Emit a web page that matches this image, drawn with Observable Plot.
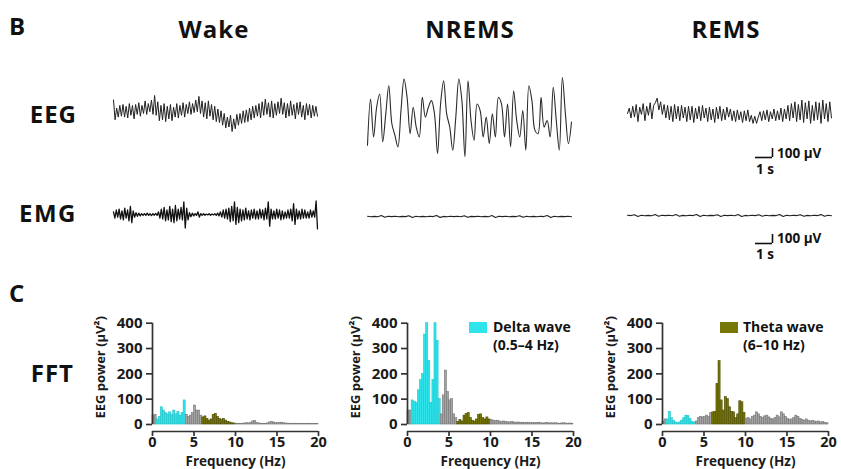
<!DOCTYPE html>
<html><head><meta charset="utf-8">
<script src="https://cdn.jsdelivr.net/npm/d3@7"></script>
<script src="https://cdn.jsdelivr.net/npm/@observablehq/plot@0.6"></script>
<style>
body{margin:0;background:#fff}
#root{position:relative;width:841px;height:469px;overflow:hidden;font-family:"Open Sans",sans-serif;background:#fff}
</style></head><body><div id="root"></div>
<script>
// ---------------- DATA ----------------
const panelLetters = ["B", "C"];
const stages = ["Wake", "NREMS", "REMS"];
const rowLabels = ["EEG", "EMG", "FFT"];
const traceDuration = 12;            // seconds shown per trace
const scaleBarTime = 1;              // s
const scaleBarVolt = 100;            // µV
const scaleTimeLabel = "1 s";
const scaleVoltLabel = "100 µV";

// EEG traces (µV), evenly sampled over traceDuration
const eegWake = [150,-70,60,-40,90,-30,100,-40,80,-50,110,-20,90,-60,100,-10,120,-30,90,0,140,-10,110,20,150,-10,
  200,-20,130,-80,90,-70,110,-90,80,-60,100,-80,70,-40,110,-50,90,-20,120,-40,100,0,130,-10,110,10,150,20,190,0,140,-40,120,-60,140,-30,
  100,-70,80,-90,50,-100,30,-130,0,-160,-40,-150,-20,-200,-60,-170,-10,-130,0,-110,30,-100,40,-90,60,-70,80,-50,90,-30,
  110,-50,130,-20,160,-10,120,-40,140,-50,110,-20,130,0,170,-10,120,-50,110,-30,140,-20,100,-60,120,-10,130,-40,90,-70,110,-20,100,-50,90,-30,80,-30];
const eegNREMS = [-330,183,-239,92,239,-294,18,330,-92,-220,-349,55,404,202,-202,92,-128,-239,202,-18,92,165,18,-422,128,385,18,-128,-385,-18,
  404,165,-459,385,-55,-275,128,55,-239,-18,-312,18,-239,202,128,-239,128,-349,275,-55,-239,55,-385,330,165,-165,-202,202,-128,-55,-239,312,-55,-385,422,18,-312,-73];
const eegREMS = [0,60,-50,80,-40,100,-90,70,-10,110,-80,80,-20,120,-60,90,120,170,40,130,-10,100,-50,
  90,-70,80,-90,100,-60,80,-80,90,-50,70,-90,80,-70,80,-100,60,-60,80,-80,90,-50,60,-90,70,-70,50,-100,70,-60,80,-80,50,-70,70,
  -40,50,-80,30,-90,40,-70,20,-100,30,-80,40,-90,-20,-110,-30,-110,-40,20,-80,30,-70,40,-90,20,-60,50,-80,30,-70,
  60,-90,50,-60,90,-80,110,-50,130,-90,100,-70,150,-100,120,-60,140,-110,90,-80,130,-70,120,-110,150,-60,110,-90,130,-50];

// EMG traces (µV)
const emgWake = [30,-40,50,-30,60,-50,40,-60,70,-40,50,-70,90,-90,40,-30,20,-20,15,-15,10,-10,
  10,-10,15,-10,8,-12,10,-8,12,-10,
  30,-40,60,-50,80,-70,50,-60,90,-80,60,-90,100,-70,60,-50,80,-60,140,-150,70,-60,
  20,-25,15,-15,10,-10,30,-30,10,-10,8,-8,5,-5,8,-8,5,-5,10,-10,15,-15,
  30,-30,50,-40,60,-50,70,-80,90,-70,140,-110,80,-90,60,-70,50,-60,70,-50,40,-60,50,-40,60,-50,
  40,-50,60,-40,50,-60,70,-50,140,-130,60,-50,40,-50,60,-40,50,-60,40,-50,30,-40,50,-40,60,-70,120,-110,60,-50,40,-50,60,-40,50,-40,30,-40,50,-30,40,-30,150,-160];
const emgNREMS = [2,-2,1,-2,10,-9,2,-1,2,-2,1,-1,8,-10,2,-2,1,-2,2,-1,12,-10,1,-2,2,-1,2,-2,9,-8,1,-1,2,-2,1,-2,10,-11,2,-1,2,-2,1,-1,9,-9,2,-2,1,-2,2,-1,11,-10,2,-2,1,-1,2,-2];
const emgREMS = [2,-1,9,-10,2,-2,1,-2,11,-9,2,-1,2,-2,10,-8,1,-2,2,-1,12,-12,2,-2,1,-1,9,-10,2,-1,2,-2,10,-11,1,-2,2,-1,8,-9,2,-2,1,-1,11,-10,2,-2,2,-1,9,-8,1,-2,2,-1,10,-9,2,-2];

// FFT power (µV²), 0.25 Hz bins from 0 to 20 Hz
const binWidth = 0.25;
const fftWake = [35,38,
  20,30,68,55,45,40,48,38,55,40,50,35,45,95,
  38,30,35,45,75,55,55,35,
  28,32,22,15,20,38,42,30,22,18,22,15,10,8,5,4,
  3,3,2,3,4,5,4,6,12,14,6,4,3,2,3,4,8,10,8,6,5,6,7,5,4,3,3,2,3,3,2,2,3,2,2,3,2,2,2,2];
const fftNREMS = [55,55,
  95,90,85,135,175,200,355,400,250,85,175,400,330,100,
  40,115,213,128,95,100,40,25,
  10,18,12,35,42,45,25,15,12,20,38,40,25,20,28,20,
  18,15,14,15,12,10,12,10,9,8,10,8,7,8,6,7,6,6,7,5,6,5,6,7,5,4,5,6,4,5,4,5,4,3,4,5,4,3,4,3];
const fftREMS = [10,20,
  20,50,25,15,8,5,8,15,25,35,33,22,10,8,
  12,25,30,28,30,35,30,45,
  48,50,160,250,95,55,108,100,68,50,48,25,40,92,88,45,
  22,25,20,30,35,48,40,30,25,32,35,28,22,20,25,35,28,48,40,30,22,18,20,25,35,30,22,18,15,20,15,12,14,12,10,12,8,10,6,5];
const yTicks = [0, 100, 200, 300, 400];
const xTicks = [0, 5, 10, 15, 20];
const yLabel = "EEG power (µV²)";
const xLabel = "Frequency (Hz)";
const bands = [
  {name: "delta", lo: 0.5, hi: 4, label: "Delta wave", range: "(0.5–4 Hz)"},
  {name: "theta", lo: 6, hi: 10, label: "Theta wave", range: "(6–10 Hz)"}
];

// ---------------- STYLE ----------------
const FONT = "'Open Sans', 'DejaVu Sans', sans-serif";
const colors = {delta: "#2fe4ea", theta: "#777708", other: "#a4a4a4"};
const strokes = {delta: "#22c4ca", theta: "#4c4c00", other: "#767676"};
const pxPerSec = 17, pxPerUV = 0.09;
const root = document.getElementById("root");

function place(el, left, top) {
  el.style.position = "absolute";
  el.style.left = left + "px";
  el.style.top = top + "px";
  root.appendChild(el);
}

function trace(values, left, zeroY, color, sw, curve = "linear") {
  const half = 600;
  const w = traceDuration * pxPerSec, h = 2 * half * pxPerUV, m = 2;
  const n = values.length;
  const svg = Plot.plot({
    width: w + 2 * m, height: h + 2 * m, margin: m,
    style: {background: "transparent", overflow: "visible"},
    x: {domain: [0, traceDuration], axis: null},
    y: {domain: [-half, half], axis: null},
    marks: [Plot.line(values, {x: (d, i) => i * traceDuration / (n - 1), y: d => d, stroke: color, strokeWidth: sw, strokeLinejoin: "round", curve})]
  });
  place(svg, left - m, zeroY - h / 2 - m);
}

function scaleBar(left, bottom) {
  const m = 2, w = scaleBarTime * pxPerSec, h = scaleBarVolt * pxPerUV;
  const svg = Plot.plot({
    width: w + 2 * m, height: h + 2 * m, margin: m,
    style: {background: "transparent", overflow: "visible"},
    x: {domain: [0, scaleBarTime], axis: null},
    y: {domain: [0, scaleBarVolt], axis: null},
    marks: [
      Plot.ruleY([0], {x1: () => 0, x2: () => scaleBarTime, stroke: "#111", strokeWidth: 1.6}),
      Plot.ruleX([scaleBarTime], {y1: () => 0, y2: () => scaleBarVolt, stroke: "#111", strokeWidth: 1.6})
    ]
  });
  place(svg, left - m, bottom - h - m);
}

function bandOf(f) {
  for (const b of bands) if (f >= b.lo - 1e-9 && f < b.hi - 1e-9) return b.name;
  return "other";
}

function fftPanel(values, axisLeft) {
  const W = 250, H = 169, top = 300;
  const zeroY = 424, topY = 322.7, frameBottom = 431, plotW = 166;
  const mL = 72, mR = W - mL - plotW, mT = topY - top, mB = top + H - frameBottom;
  const unitsPerPx = 400 / (zeroY - topY);
  const yFloor = -(frameBottom - zeroY) * unitsPerPx;
  const data = values.map((v, i) => ({f: i * binWidth, v, band: bandOf(i * binWidth)}));
  const svg = Plot.plot({
    width: W, height: H, marginLeft: mL, marginRight: mR, marginTop: mT, marginBottom: mB,
    style: {background: "transparent", overflow: "visible", fontFamily: FONT, fontWeight: 700, color: "#1a1a1a"},
    x: {domain: [0, 20]},
    y: {domain: [yFloor, 400]},
    marks: [
      Plot.rect(data, {x1: "f", x2: d => d.f + binWidth, y1: () => 0, y2: "v", fill: d => colors[d.band], stroke: d => strokes[d.band], strokeWidth: 0.6}),
      Plot.ruleX([0], {y1: () => 0, y2: () => 400, stroke: "#333", strokeWidth: 1.7}),
      Plot.ruleY([yFloor], {x1: () => 0, x2: () => 20, stroke: "#333", strokeWidth: 1.7}),
      Plot.axisY({ticks: yTicks, tickSize: 6, tickPadding: 4, fontSize: 15, fontWeight: 700, label: null, stroke: "#333", strokeWidth: 1.7}),
      Plot.axisX({ticks: xTicks, tickSize: 5, tickPadding: 0, fontSize: 14.5, fontWeight: 700, label: null, stroke: "#333", strokeWidth: 1.7}),
      Plot.text([yLabel], {text: d => d, frameAnchor: "left", rotate: -90, dx: -52, dy: -10, fontSize: 13, fontWeight: 700, textAnchor: "middle", lineAnchor: "middle", fill: "#1a1a1a"}),
      Plot.text([xLabel], {text: d => d, frameAnchor: "bottom", dy: 30.5, fontSize: 13.5, fontWeight: 700, textAnchor: "middle", lineAnchor: "middle", fill: "#1a1a1a"})
    ]
  });
  place(svg, axisLeft - mL, top);
}

// ---------------- DRAW ----------------
const traceLeft = [113, 367, 627];
const lineColor = "#202020";
trace(eegWake, traceLeft[0], 112.5, lineColor, 1);
trace(eegNREMS, traceLeft[1], 115, "#2a2a2a", 1.1, "catmull-rom");
trace(eegREMS, traceLeft[2], 113, lineColor, 1);
trace(emgWake, traceLeft[0], 214, "#111", 1.3);
trace(emgNREMS, traceLeft[1], 215.5, "#222", 1.1);
trace(emgREMS, traceLeft[2], 214.5, "#222", 1.1);
scaleBar(755, 157);
scaleBar(755, 243);

fftPanel(fftWake, 152.3);
fftPanel(fftNREMS, 407.3);
fftPanel(fftREMS, 661.7);

// text overlay
const ov = d3.create("svg").attr("width", 841).attr("height", 469)
  .style("position", "absolute").style("left", "0px").style("top", "0px")
  .style("font-family", FONT).style("font-weight", 700).style("fill", "#111");
function label(txt, x, y, size, anchor = "start", spacing = 0) {
  ov.append("text").attr("x", x).attr("y", y).attr("font-size", size).attr("text-anchor", anchor)
    .attr("letter-spacing", spacing).text(txt);
}
label(panelLetters[0], 9, 35, 24);
label(panelLetters[1], 9, 302, 24);
[214, 470, 726].forEach((x, i) => label(stages[i], x, 38, 24, "middle", 1));
label(rowLabels[0], 77, 123, 24, "end", 1);
label(rowLabels[1], 77, 222, 24, "end", 1.5);
label(rowLabels[2], 74, 382, 24, "end", 1);
label(scaleVoltLabel, 777, 158, 13.5);
label(scaleTimeLabel, 756, 174, 13.5);
label(scaleVoltLabel, 777, 243, 13.5);
label(scaleTimeLabel, 756, 259, 13.5);
// legends
const legendPos = [{sx: 469, tx: 493}, {sx: 720, tx: 743}];
bands.forEach((b, i) => {
  ov.append("rect").attr("x", legendPos[i].sx).attr("y", 322).attr("width", 18).attr("height", 11).attr("fill", colors[b.name]);
  label(b.label, legendPos[i].tx, 332, 14);
  label(b.range, legendPos[i].tx, 350, 14);
});
root.appendChild(ov.node());
</script>
</body></html>
